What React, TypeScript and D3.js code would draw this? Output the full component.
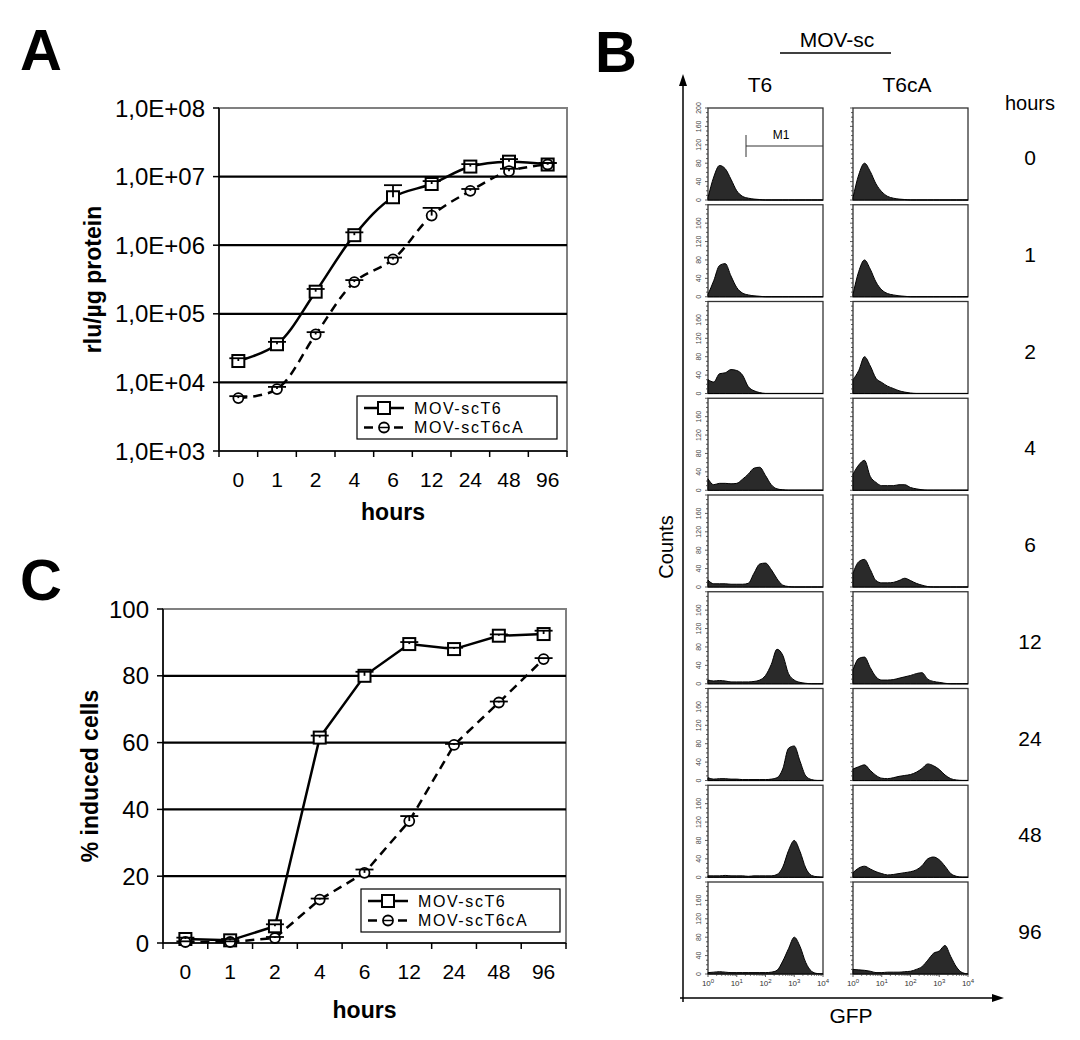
import React from 'react'
import * as d3 from 'd3'

const FONT = '"Liberation Sans", Arial, Helvetica, sans-serif'

// time points (categorical x axis of A and C, row labels of B)
const hours = ['0', '1', '2', '4', '6', '12', '24', '48', '96']

// A: luciferase activity (rlu/µg protein)
const rluT6 = [2.05e4, 3.6e4, 2.1e5, 1.4e6, 5.0e6, 7.8e6, 1.4e7, 1.65e7, 1.5e7]
const rluT6Err = [2e3, 3e3, 2e4, 1.4e5, 2.5e6, 8e5, 1.2e6, 1.5e6, 8e5]
const rluT6cA = [5.9e3, 8.0e3, 5.0e4, 2.9e5, 6.2e5, 2.7e6, 6.2e6, 1.2e7, 1.5e7]
const rluT6cAErr = [400, 600, 4000, 2e4, 4e4, 8e5, 4e5, 1e6, 8e5]
const rluTicks = [1e3, 1e4, 1e5, 1e6, 1e7, 1e8]
const rluTickLabels = ['1,0E+03', '1,0E+04', '1,0E+05', '1,0E+06', '1,0E+07', '1,0E+08']

// C: % induced cells
const inducedT6 = [1.2, 0.8, 5, 61.5, 80, 89.5, 88, 92, 92.5]
const inducedT6Err = [0.4, 0.4, 0.6, 0.6, 1.2, 0.6, 0.4, 0.4, 1]
const inducedT6cA = [0.3, 0.3, 1.5, 13, 21, 36.5, 59.3, 72, 85]
const inducedT6cAErr = [0.2, 0.2, 0.3, 0.3, 1, 1.5, 0.3, 0.3, 0.3]
const inducedTicks = [0, 20, 40, 60, 80, 100]

// B: flow cytometry histograms, counts at GFP log10 positions
const gfpLog = [0, 0.2, 0.4, 0.6, 0.8, 1, 1.2, 1.4, 1.6, 1.8, 2, 2.2, 2.4, 2.6, 2.8, 3, 3.2, 3.4, 3.6, 3.8, 4]
const histT6 = [
  [5, 50, 75, 68, 45, 20, 8, 4, 2, 1, 0, 0, 0, 0, 0, 0, 0, 0, 0, 0, 0],
  [5, 35, 68, 72, 45, 20, 8, 4, 2, 1, 0, 0, 0, 0, 0, 0, 0, 0, 0, 0, 0],
  [30, 25, 43, 45, 52, 50, 40, 15, 6, 2, 0, 0, 0, 0, 0, 0, 0, 0, 0, 0, 0],
  [25, 12, 15, 15, 14, 15, 24, 35, 48, 50, 32, 12, 3, 1, 0, 0, 0, 0, 0, 0, 0],
  [15, 7, 7, 7, 6, 6, 6, 8, 30, 50, 52, 38, 18, 4, 1, 0, 0, 0, 0, 0, 0],
  [8, 6, 7, 6, 4, 4, 4, 4, 5, 8, 18, 42, 75, 62, 22, 8, 3, 1, 0, 0, 0],
  [6, 3, 4, 4, 3, 3, 2, 2, 2, 2, 2, 3, 6, 25, 70, 75, 42, 10, 2, 0, 0],
  [3, 3, 3, 4, 3, 3, 3, 2, 3, 3, 3, 3, 6, 22, 58, 80, 56, 20, 4, 1, 0],
  [3, 4, 5, 4, 3, 3, 3, 3, 3, 3, 3, 4, 8, 28, 55, 80, 60, 25, 6, 1, 0],
]
const histT6cA = [
  [5, 55, 80, 62, 35, 18, 8, 4, 2, 1, 0, 0, 0, 0, 0, 0, 0, 0, 0, 0, 0],
  [5, 55, 80, 60, 32, 15, 7, 4, 2, 1, 0, 0, 0, 0, 0, 0, 0, 0, 0, 0, 0],
  [30, 50, 80, 60, 33, 24, 16, 11, 6, 3, 1, 0, 0, 0, 0, 0, 0, 0, 0, 0, 0],
  [35, 55, 65, 30, 17, 10, 10, 10, 12, 12, 6, 3, 1, 0, 0, 0, 0, 0, 0, 0, 0],
  [30, 55, 60, 38, 14, 9, 9, 10, 14, 19, 14, 8, 4, 1, 0, 0, 0, 0, 0, 0, 0],
  [30, 55, 58, 35, 15, 8, 8, 9, 12, 15, 18, 22, 24, 10, 5, 3, 1, 0, 0, 0, 0],
  [25, 30, 34, 22, 11, 5, 4, 6, 9, 11, 13, 18, 26, 36, 32, 24, 12, 4, 1, 0, 0],
  [10, 20, 24, 18, 12, 8, 5, 6, 8, 10, 12, 16, 25, 40, 44, 38, 24, 8, 2, 0, 0],
  [10, 9, 8, 6, 3, 3, 4, 4, 4, 5, 6, 10, 16, 30, 45, 50, 62, 38, 15, 3, 0],
]
const countTicks = [0, 40, 80, 120, 160, 200]
const gfpDecades = [0, 1, 2, 3, 4]

type Series = { label: string; values: number[]; err: number[]; dashed: boolean; marker: 'square' | 'circle' }

type PanelProps = {
  left: number
  right: number
  top: number
  bottom: number
  y: (v: number) => number
  ticks: number[]
  tickLabels: string[]
  curve: d3.CurveFactory
  series: Series[]
  yTitle: string
  yTitleX: number
  xTitleY: number
  legend: { x: number; y: number; w: number; h: number }
}

function Marker({ kind, x, y }: { kind: 'square' | 'circle'; x: number; y: number }) {
  if (kind === 'square')
    return <rect x={x - 6} y={y - 6} width={12} height={12} fill="#fff" stroke="#000" strokeWidth={2} />
  return <circle cx={x} cy={y} r={5} fill="#fff" stroke="#000" strokeWidth={1.8} />
}

function LinePanel(p: PanelProps) {
  const x = d3.scaleBand<string>().domain(hours).range([p.left, p.right])
  const cx = (i: number) => (x(hours[i]) ?? 0) + x.bandwidth() / 2
  const line = d3
    .line<number>()
    .x((_, i) => cx(i))
    .y((v) => p.y(v))
    .curve(p.curve)
  const midX = (p.left + p.right) / 2
  const L = p.legend
  return (
    <g fontFamily={FONT}>
      <rect x={p.left} y={p.top} width={p.right - p.left} height={p.bottom - p.top} fill="none" stroke="#808080" strokeWidth={2} />
      {p.ticks.slice(1, -1).map((t) => (
        <line key={t} x1={p.left} x2={p.right} y1={p.y(t)} y2={p.y(t)} stroke="#000" strokeWidth={2.2} />
      ))}
      <line x1={p.left} x2={p.left} y1={p.top} y2={p.bottom} stroke="#000" strokeWidth={1.5} />
      <line x1={p.left} x2={p.right} y1={p.bottom} y2={p.bottom} stroke="#000" strokeWidth={1.5} />
      {p.ticks.map((t, i) => (
        <g key={t}>
          <line x1={p.left - 6} x2={p.left} y1={p.y(t)} y2={p.y(t)} stroke="#000" strokeWidth={1.5} />
          <text x={p.left - 14} y={p.y(t)} dy="0.36em" textAnchor="end" fontSize={24}>
            {p.tickLabels[i]}
          </text>
        </g>
      ))}
      {d3.range(hours.length + 1).map((i) => (
        <line key={i} x1={p.left + i * x.step()} x2={p.left + i * x.step()} y1={p.bottom} y2={p.bottom + 6} stroke="#000" strokeWidth={1.5} />
      ))}
      {hours.map((h, i) => (
        <text key={h} x={cx(i)} y={p.bottom + 36} textAnchor="middle" fontSize={21}>
          {h}
        </text>
      ))}
      {p.series.map((s) => (
        <path key={s.label} d={line(s.values) ?? ''} fill="none" stroke="#000" strokeWidth={2.5} strokeDasharray={s.dashed ? '9,6' : undefined} />
      ))}
      {p.series.map((s) =>
        s.values.map((v, i) => <Marker key={s.label + i} kind={s.marker} x={cx(i)} y={p.y(v)} />)
      )}
      {p.series.map((s) =>
        s.values.map((v, i) => (
          <g key={'e' + s.label + i} stroke="#000" strokeWidth={1.8}>
            <line x1={cx(i)} x2={cx(i)} y1={p.y(v)} y2={p.y(v + s.err[i])} />
            <line x1={cx(i) - 9} x2={cx(i) + 9} y1={p.y(v + s.err[i])} y2={p.y(v + s.err[i])} />
          </g>
        ))
      )}
      <rect x={L.x} y={L.y} width={L.w} height={L.h} fill="#fff" stroke="#000" strokeWidth={1.2} />
      {p.series.map((s, i) => {
        const ly = L.y + 12 + i * 19.5
        return (
          <g key={'l' + s.label}>
            <line x1={L.x + 7} x2={L.x + 47} y1={ly} y2={ly} stroke="#000" strokeWidth={2.5} strokeDasharray={s.dashed ? '9,6' : undefined} />
            <Marker kind={s.marker} x={L.x + 27} y={ly} />
            {s.marker === 'circle' && <line x1={L.x + 22} x2={L.x + 32} y1={ly} y2={ly} stroke="#000" strokeWidth={1.5} />}
            <text x={L.x + 57} y={ly} dy="0.35em" fontSize={16} letterSpacing={1.6}>
              {s.label}
            </text>
          </g>
        )
      })}
      <text x={midX} y={p.xTitleY} textAnchor="middle" fontSize={23} fontWeight="bold">
        hours
      </text>
      <text transform={`translate(${p.yTitleX},${(p.top + p.bottom) / 2}) rotate(-90)`} textAnchor="middle" dy="0.36em" fontSize={23} fontWeight="bold">
        {p.yTitle}
      </text>
    </g>
  )
}

function FlowPanel() {
  const colX = [708, 853]
  const boxW = 115
  const boxH = 92
  const rowTop = (r: number) => 108 + r * 96.75
  const gx = d3.scaleLinear().domain([0, 4]).range([0, boxW])
  const gy = d3.scaleLinear().domain([0, 200]).range([boxH, 0])
  const area = d3
    .area<number>()
    .x((_, i) => gx(gfpLog[i]))
    .y0(boxH)
    .y1((v) => gy(v))
    .curve(d3.curveMonotoneX)
  const minorCounts = d3.range(0, 201, 10)
  const minorLog = gfpDecades.slice(0, -1).flatMap((d) => d3.range(1, 10).map((k) => d + Math.log10(k))).concat([4])
  const last = hours.length - 1

  return (
    <g fontFamily={FONT}>
      <text x={837} y={47} textAnchor="middle" fontSize={21}>MOV-sc</text>
      <line x1={780} x2={891} y1={53} y2={53} stroke="#000" strokeWidth={1.5} />
      <text x={760} y={92} textAnchor="middle" fontSize={21}>T6</text>
      <text x={907} y={92} textAnchor="middle" fontSize={21}>T6cA</text>
      <text x={1030} y={110} textAnchor="middle" fontSize={20}>hours</text>

      {hours.map((h, r) => (
        <text key={h} x={1030} y={rowTop(r) + 57} textAnchor="middle" fontSize={21}>
          {h}
        </text>
      ))}

      {[histT6, histT6cA].map((hist, c) =>
        hist.map((counts, r) => (
          <g key={`${c}-${r}`} transform={`translate(${colX[c]},${rowTop(r)})`}>
            <rect x={0} y={0} width={boxW} height={boxH} fill="#fff" stroke="#333" strokeWidth={1.3} />
            <path d={area(counts) ?? ''} fill="#2a2a2a" stroke="#000" strokeWidth={1} />
            {minorCounts.map((t) => (
              <line key={t} x1={t % 40 === 0 ? -3 : -2} x2={0} y1={gy(t)} y2={gy(t)} stroke="#333" strokeWidth={0.8} />
            ))}
            {c === 0 &&
              countTicks
                .filter((t) => r === 0 || t < 200)
                .map((t) => (
                  <text key={t} transform={`translate(-7.5,${gy(t)}) rotate(-90)`} textAnchor="middle" fontSize={7} fill="#444">
                    {t}
                  </text>
                ))}
            {r === last &&
              minorLog.map((l, i) => (
                <line key={i} x1={gx(l)} x2={gx(l)} y1={boxH} y2={boxH + (Number.isInteger(l) ? 3 : 1.8)} stroke="#333" strokeWidth={0.8} />
              ))}
            {r === last &&
              gfpDecades.map((d) => (
                <text key={d} x={gx(d)} y={boxH + 12} textAnchor="middle" fontSize={8} fill="#333">
                  10
                  <tspan dy={-3} fontSize={6}>
                    {d}
                  </tspan>
                </text>
              ))}
          </g>
        ))
      )}

      {/* M1 gate marker */}
      <line x1={746} x2={746} y1={135} y2={157} stroke="#333" strokeWidth={1} />
      <line x1={746} x2={colX[0] + boxW} y1={146} y2={146} stroke="#333" strokeWidth={1} />
      <text x={781} y={139} textAnchor="middle" fontSize={12}>M1</text>

      {/* axes arrows */}
      <line x1={683} x2={683} y1={1002} y2={82} stroke="#000" strokeWidth={1.5} />
      <path d="M683,74 L679,86 L687,86 Z" fill="#000" />
      <line x1={680} x2={996} y1={998} y2={998} stroke="#000" strokeWidth={1.5} />
      <path d="M1004,998 L992,994 L992,1002 Z" fill="#000" />
      <text transform="translate(666,547) rotate(-90)" textAnchor="middle" dy="0.36em" fontSize={20}>Counts</text>
      <text x={851} y={1023} textAnchor="middle" fontSize={21}>GFP</text>
    </g>
  )
}

export default function App() {
  const yA = d3.scaleLog().domain([1e3, 1e8]).range([451, 108])
  const yC = d3.scaleLinear().domain([0, 100]).range([943, 609])
  return (
    <svg width={1080} height={1040} style={{ position: 'absolute', left: 0, top: 0, background: '#fff' }}>
      <rect width={1080} height={1040} fill="#fff" />
      <g fontFamily={FONT} fontWeight="bold" fontSize={58}>
        <text x={20} y={70}>A</text>
        <text x={595} y={72}>B</text>
        <text x={20} y={600}>C</text>
      </g>
      <LinePanel
        left={219}
        right={567}
        top={108}
        bottom={451}
        y={yA}
        ticks={rluTicks}
        tickLabels={rluTickLabels}
        curve={d3.curveCatmullRom.alpha(0.5)}
        series={[
          { label: 'MOV-scT6', values: rluT6, err: rluT6Err, dashed: false, marker: 'square' },
          { label: 'MOV-scT6cA', values: rluT6cA, err: rluT6cAErr, dashed: true, marker: 'circle' },
        ]}
        yTitle="rlu/µg protein"
        yTitleX={93}
        xTitleY={520}
        legend={{ x: 357, y: 396, w: 200, h: 43 }}
      />
      <LinePanel
        left={163}
        right={566}
        top={609}
        bottom={943}
        y={yC}
        ticks={inducedTicks}
        tickLabels={inducedTicks.map(String)}
        curve={d3.curveLinear}
        series={[
          { label: 'MOV-scT6', values: inducedT6, err: inducedT6Err, dashed: false, marker: 'square' },
          { label: 'MOV-scT6cA', values: inducedT6cA, err: inducedT6cAErr, dashed: true, marker: 'circle' },
        ]}
        yTitle="% induced cells"
        yTitleX={90}
        xTitleY={1018}
        legend={{ x: 361, y: 889, w: 199, h: 43 }}
      />
      <FlowPanel />
    </svg>
  )
}
